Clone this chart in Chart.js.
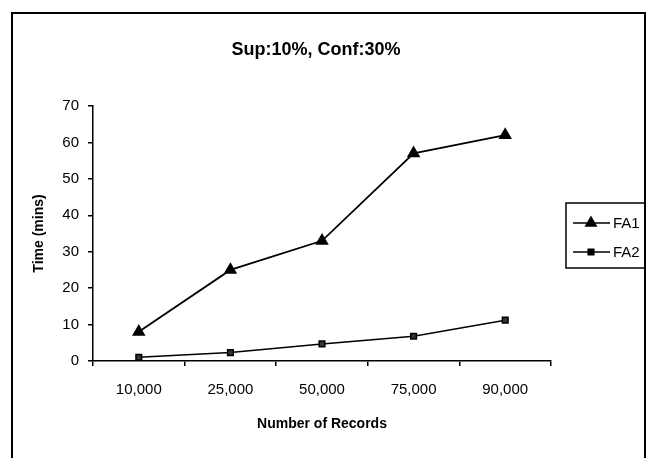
<!DOCTYPE html>
<html lang="en">
<head>
    <meta charset="UTF-8">
    <title>Sup:10%, Conf:30%</title>
    <script src="https://cdn.jsdelivr.net/npm/chart.js"></script>
    <style>
        html, body { margin: 0; padding: 0; background: #fff; }
        #chart-container { width: 646px; height: 460px; position: relative; }
    </style>
</head>
<body>
    <div id="chart-container">
        <canvas id="myChart"></canvas>
    </div>

    <script>
        // data
        const records = ['10,000', '25,000', '50,000', '75,000', '90,000'];
        const fa1 = [8, 25, 33, 57, 62];
        const fa2 = [1, 2.3, 4.7, 6.8, 11.2];
        const yTicks = [0, 10, 20, 30, 40, 50, 60, 70];

        const chartTitle = 'Sup:10%, Conf:30%';
        const font = 'Arial, "Liberation Sans", sans-serif';

        // title, outer frame and the boxed legend on the right
        const decorations = {
            id: 'decorations',
            afterDraw(chart) {
                const ctx = chart.ctx;
                ctx.save();

                // frame round the whole figure (bottom edge is missing in the scan)
                ctx.strokeStyle = '#000';
                ctx.lineWidth = 2;
                ctx.beginPath();
                ctx.moveTo(12, 458);
                ctx.lineTo(12, 13);
                ctx.lineTo(645, 13);
                ctx.lineTo(645, 458);
                ctx.stroke();

                ctx.fillStyle = '#000';
                ctx.font = 'bold 18px ' + font;
                ctx.textAlign = 'center';
                ctx.textBaseline = 'middle';
                ctx.fillText(chartTitle, 316, 50);

                // legend box
                ctx.lineWidth = 1.5;
                ctx.strokeRect(566, 203, 90, 65);
                const rows = [223, 252];
                chart.data.datasets.forEach((ds, i) => {
                    const y = rows[i];
                    ctx.strokeStyle = '#000';
                    ctx.lineWidth = 1.5;
                    ctx.beginPath();
                    ctx.moveTo(573, y);
                    ctx.lineTo(610, y);
                    ctx.stroke();
                    Chart.helpers.drawPoint(ctx, {
                        pointStyle: ds.pointStyle,
                        radius: ds.pointRadius,
                        borderWidth: 1
                    }, 591, y);
                    ctx.fillStyle = '#000';
                    ctx.font = '15px ' + font;
                    ctx.textAlign = 'left';
                    ctx.fillText(ds.label, 613, y + 1);
                });
                ctx.restore();
            }
        };

        const ctx = document.getElementById('myChart').getContext('2d');
        new Chart(ctx, {
            type: 'line',
            data: {
                labels: records,
                datasets: [{
                    label: 'FA1',
                    data: fa1,
                    borderColor: '#000',
                    borderWidth: 1.8,
                    pointStyle: 'triangle',
                    pointRadius: 6,
                    pointBackgroundColor: '#000',
                    pointBorderColor: '#000',
                    tension: 0
                }, {
                    label: 'FA2',
                    data: fa2,
                    borderColor: '#000',
                    borderWidth: 1.5,
                    pointStyle: 'rect',
                    pointRadius: 4,
                    pointBackgroundColor: '#333',
                    pointBorderColor: '#000',
                    tension: 0
                }]
            },
            options: {
                responsive: true,
                maintainAspectRatio: false,
                animation: false,
                layout: {
                    padding: { top: 106, right: 95, bottom: 0, left: 0 }
                },
                plugins: {
                    legend: { display: false },
                    title: { display: false },
                    tooltip: { enabled: false }
                },
                scales: {
                    x: {
                        offset: true,
                        afterFit(scale) { scale.height = 99; },
                        border: { display: true, color: '#000', width: 1.5 },
                        grid: {
                            offset: true,
                            drawOnChartArea: false,
                            drawTicks: true,
                            tickLength: 5,
                            color: '#000',
                            lineWidth: 1.5
                        },
                        ticks: {
                            color: '#000',
                            padding: 15,
                            maxRotation: 0,
                            font: { family: font, size: 15 }
                        },
                        title: {
                            display: true,
                            text: 'Number of Records',
                            color: '#000',
                            padding: 27,
                            font: { family: font, size: 14, weight: 'bold' }
                        }
                    },
                    y: {
                        min: 0,
                        max: 70,
                        afterFit(scale) { scale.width = 93; },
                        afterBuildTicks(scale) {
                            scale.ticks = yTicks.map(v => ({ value: v }));
                        },
                        border: { display: true, color: '#000', width: 1.5 },
                        grid: {
                            drawOnChartArea: false,
                            drawTicks: true,
                            tickLength: 5,
                            color: '#000',
                            lineWidth: 1.5
                        },
                        ticks: {
                            color: '#000',
                            padding: 9,
                            font: { family: font, size: 15 }
                        },
                        title: {
                            display: true,
                            text: 'Time (mins)',
                            color: '#000',
                            padding: 31,
                            font: { family: font, size: 14, weight: 'bold' }
                        }
                    }
                }
            },
            plugins: [decorations]
        });
    </script>
</body>
</html>
